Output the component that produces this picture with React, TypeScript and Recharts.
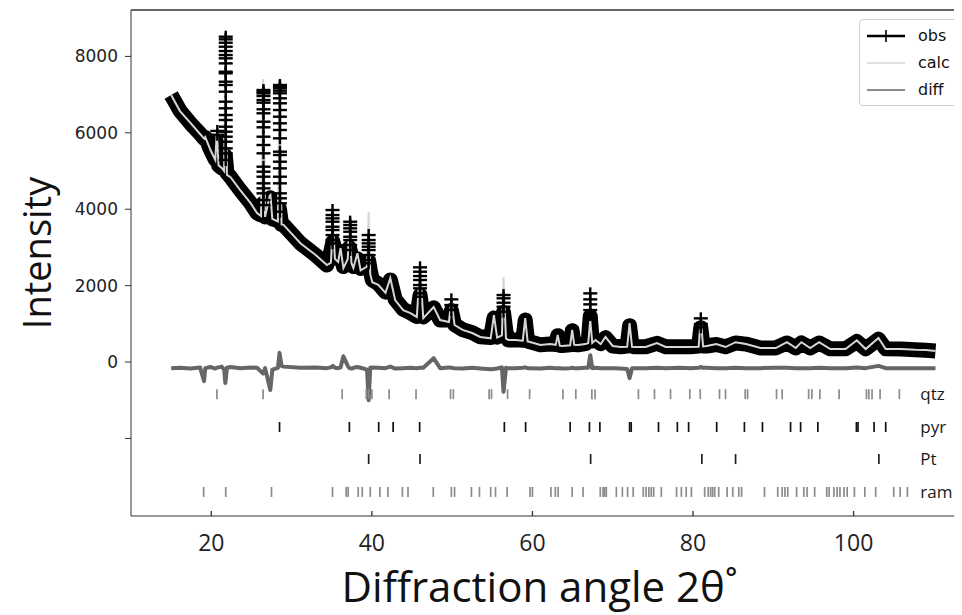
import React from "react";
import {
  ComposedChart,
  Line,
  Scatter,
  XAxis,
  YAxis,
  Legend,
  ReferenceLine,
  ReferenceDot,
} from "recharts";

// 2theta grid of the profile (deg)
const twoTheta = [
  15.0, 16.1, 17.4, 18.6, 19.1, 19.25, 19.9, 20.5, 20.7, 20.9, 21.3, 21.6, 21.75, 21.95, 22.4, 23.6,
  24.9, 25.7, 26.2, 26.45, 26.7, 27.35, 27.6, 28.3, 28.5, 28.75, 29.0, 31.1, 33.0, 34.4, 34.9, 35.15,
  35.4, 35.8, 36.1, 36.45, 37.0, 37.2, 37.45, 37.7, 38.2, 38.6, 39.4, 39.6, 39.8, 40.05, 40.8, 41.7,
  42.3, 42.9, 43.9, 44.8, 45.6, 46.0, 46.4, 47.7, 48.5, 49.6, 49.9, 50.3, 51.3, 52.5, 53.5, 54.8,
  55.2, 55.6, 56.2, 56.4, 56.7, 57.0, 57.9, 58.8, 59.1, 59.4, 59.7, 61.0, 62.2, 62.9, 63.15, 63.4,
  63.7, 64.7, 64.95, 65.2, 65.7, 66.6, 66.95, 67.2, 67.45, 67.85, 68.5, 69.1, 70.0, 71.0, 71.8, 72.1,
  72.4, 72.7, 74.1, 75.5, 76.6, 78.4, 79.7, 80.7, 80.97, 81.25, 81.7, 82.9, 84.05, 85.3, 86.6, 88.4,
  90.3, 91.7, 92.8, 93.5, 94.6, 95.7, 97.1, 99.0, 100.4, 101.5, 103.1, 104.0, 105.9, 107.7, 109.0, 110.2,
];

const calc = [
  6990, 6570, 6260, 5970, 5850, 5890, 5550, 5290, 6070, 5150, 5080, 5000, 8640, 4900, 4840, 4500,
  4160, 3900, 3820, 7410, 3800, 4420, 3750, 3680, 7380, 3600, 3590, 3110, 2800, 2540, 2600, 3660,
  2700, 2620, 2980, 2460, 2700, 3850, 2600, 2460, 2850, 2400, 2500, 3930, 2300, 2090, 2020, 1810,
  2200, 1620, 1360, 1280, 1180, 2490, 1150, 1440, 1100, 1050, 1620, 970, 840, 760, 655, 620,
  1230, 640, 700, 2225, 620, 575, 575, 560, 1150, 540, 525, 445, 470, 450, 710, 430,
  420, 440, 840, 450, 445, 470, 500, 1100, 500, 576, 470, 655, 420, 393, 400, 1020,
  400, 393, 393, 497, 393, 393, 393, 400, 1150, 410, 420, 470, 393, 520, 470, 367,
  367, 520, 367, 520, 367, 520, 340, 340, 570, 340, 628, 340, 340, 320, 314, 288,
];

const obs = [
  6990, 6580, 6250, 5980, 5850, 5880, 5560, 5300, 5750, 5150, 5080, 5050, 5400, 4950, 4840, 4500,
  4160, 3900, 3850, 4150, 3800, 4300, 3750, 3700, 4000, 3600, 3590, 3110, 2800, 2540, 2900, 3150,
  2950, 2700, 2900, 2500, 2900, 3000, 2800, 2500, 2700, 2450, 2600, 2650, 2400, 2150, 2050, 1830,
  2150, 1640, 1380, 1290, 1190, 1750, 1180, 1420, 1100, 1100, 1350, 980, 850, 770, 660, 640,
  1150, 650, 900, 1300, 800, 580, 580, 570, 1100, 550, 530, 450, 470, 460, 690, 440,
  430, 450, 820, 460, 450, 480, 550, 1200, 550, 580, 480, 640, 420, 400, 420, 950,
  420, 400, 400, 490, 400, 400, 400, 420, 900, 420, 420, 460, 400, 500, 470, 370,
  370, 500, 370, 500, 370, 500, 345, 345, 540, 345, 600, 345, 340, 320, 310, 290,
];

const diff = [
  -160, -150, -170, -140, -500, -160, -130, -170, -150, -140, -120, -200, -550, -150, -130, -160,
  -140, -150, -250, -300, -160, -730, -200, -150, 240, -100, -120, -150, -140, -160, -140, -100,
  -150, -160, -140, 150, -100, -160, -170, -150, -130, -150, -200, -1000, -150, -140, -150, -160,
  -120, -170, -160, -150, -160, -150, -150, 100, -160, -140, -150, -160, -170, -150, -170, -190,
  -180, -170, -140, -780, -150, -160, -160, -150, -140, -160, -160, -170, -150, -160, -160, -160,
  -170, -160, -150, -160, -160, -150, -150, 180, -160, -150, -160, -160, -160, -170, -180, -420,
  -160, -160, -160, -150, -160, -150, -160, -150, -130, -150, -150, -160, -160, -150, -160, -160,
  -150, -150, -160, -160, -160, -150, -160, -160, -140, -160, -100, -160, -160, -160, -160, -160,
];

// observed points stacked on the strong peaks
const peakCentres = [20.75, 21.8, 26.5, 28.55, 35.1, 37.3, 39.6, 46.0, 49.9, 56.4, 67.2, 80.97];
const peakPoints = [
  [5950, 6050],
  [8516, 8447, 8358, 8254, 8141, 8036, 7950, 7818, 7600, 7558, 7338, 7252, 7077, 6815, 6642, 6466, 6335, 6160, 6029, 5898, 5767, 5593, 5462, 5288],
  [7121, 7077, 7034, 6964, 6859, 6789, 6616, 6511, 6291, 6144, 5898, 5681, 5463, 5113, 4982, 4851, 4678, 4547, 4416, 4241, 4110],
  [7252, 7208, 7165, 7103, 7034, 6904, 6773, 6597, 6422, 6249, 6074, 5856, 5506, 5419, 5244, 5070, 4851, 4678, 4416, 4286, 4155, 3935],
  [3979, 3848, 3761, 3673, 3542, 3456, 3325, 3194, 3107],
  [3673, 3587, 3500, 3411, 3280, 3194, 3063, 2932],
  [3325, 3194, 3107, 3019, 2932, 2801, 2670, 2584],
  [2479, 2364, 2251, 2147, 2016, 1929, 1798, 1710],
  [1641, 1492, 1361],
  [1754, 1668, 1553, 1448, 1317],
  [1798, 1641, 1510, 1361, 1230],
  [1144, 995, 908],
];

// reflection positions
const qtz = [
  20.7, 26.45, 36.3, 39.3, 39.6, 40.0, 42.15, 45.5, 49.8, 50.15, 54.6, 54.9, 56.9, 59.65, 63.8, 65.4,
  67.4, 67.8, 73.2, 75.2, 77.2, 79.6, 80.9, 83.3, 84.05, 86.5, 86.8, 90.4, 91.1, 94.4, 94.8, 95.8,
  98.2, 101.6, 101.9, 102.3, 103.3, 105.7,
];
const pyr = [
  28.5, 37.2, 40.85, 42.65, 45.95, 56.5, 59.15, 64.7, 67.1, 68.4, 72.1, 72.3, 75.7, 78.05, 79.45,
  82.95, 86.4, 88.65, 92.15, 93.4, 95.55, 100.35, 100.55, 102.55, 104.0,
];
const pt = [39.6, 46.0, 67.25, 81.1, 85.3, 103.15];
const ram = [
  19.05, 21.8, 27.5, 35.1, 36.8, 37.05, 38.3, 38.8, 39.8, 41.0, 42.0, 43.8, 44.5, 47.65, 49.9, 50.3,
  52.4, 53.4, 54.8, 55.4, 56.85, 59.7, 60.0, 62.3, 62.85, 63.2, 64.95, 66.3, 68.45, 68.8, 69.0, 69.2,
  70.45, 71.2, 71.85, 72.55, 73.8, 74.15, 74.5, 74.8, 75.1, 76.05, 77.95, 78.55, 79.15, 79.8, 81.45,
  81.9, 82.2, 82.45, 82.7, 83.2, 84.25, 84.95, 85.7, 86.05, 88.9, 90.55, 91.1, 91.45, 91.8, 92.9,
  93.8, 94.2, 95.15, 96.65, 96.95, 97.55, 97.95, 98.3, 98.8, 99.2, 100.1, 101.4, 102.75, 105.0,
  105.8, 106.7,
];
const phaseNames = ["qtz", "pyr", "Pt", "ram"];
const phaseLevels = [-840, -1700, -2540, -3400];
const phaseColors = ["#8c8c8c", "#111111", "#1e1e1e", "#8c8c8c"];

const xTicks = [20, 40, 60, 80, 100];
const yTicks = [-2000, 0, 2000, 4000, 6000, 8000];
const legendNames = ["obs", "calc", "diff"];

const profile = twoTheta.map((x, i) => ({ x, obs: obs[i], calc: calc[i], diff: diff[i] }));
const peakData = peakCentres.flatMap((x, i) => peakPoints[i].map((y) => ({ x, y })));
const phaseData = [qtz, pyr, pt, ram].map((list, i) => list.map((x) => ({ x, y: phaseLevels[i] })));

const PlusMark = (props: any) => {
  const { cx, cy } = props;
  return (
    <g stroke="#000" strokeWidth={2.4}>
      <line x1={cx - 7} x2={cx + 7} y1={cy} y2={cy} />
      <line x1={cx} x2={cx} y1={cy - 6} y2={cy + 6} />
    </g>
  );
};

const tickMark = (color: string) => (props: any) => (
  <line x1={props.cx} x2={props.cx} y1={props.cy - 5} y2={props.cy + 5} stroke={color} strokeWidth={1.7} />
);

const XTick = (props: any) => {
  const { x, y, payload } = props;
  return (
    <g>
      <line x1={x} x2={x} y1={y} y2={y - 5} stroke="#333" strokeWidth={1.3} />
      <text x={x} y={y + 35} textAnchor="middle" fontFamily="Open Sans" fontSize={23} fill="#222">
        {payload.value}
      </text>
    </g>
  );
};

const LegendBox = () => (
  <div
    style={{
      width: 120,
      height: 87,
      boxSizing: "border-box",
      border: "1px solid #cfcfcf",
      borderRadius: 4,
      background: "rgba(255,255,255,0.85)",
      fontFamily: "DejaVu Sans",
      fontSize: 16,
      color: "#111",
      paddingTop: 2,
    }}
  >
    {legendNames.map((name) => (
      <div key={name} style={{ display: "flex", alignItems: "center", height: 27 }}>
        <svg width={52} height={20} style={{ marginRight: 6 }}>
          {name === "obs" && (
            <g stroke="#000">
              <line x1={7} x2={45} y1={10} y2={10} strokeWidth={2.5} />
              <line x1={26} x2={26} y1={4} y2={16} strokeWidth={1.6} />
            </g>
          )}
          {name === "calc" && <line x1={7} x2={45} y1={10} y2={10} stroke="#d6d6d6" strokeWidth={1.6} />}
          {name === "diff" && <line x1={7} x2={45} y1={10} y2={10} stroke="#666" strokeWidth={1.6} />}
        </svg>
        <span>{name}</span>
      </div>
    ))}
  </div>
);

export default function App() {
  return (
    <div style={{ width: 954, height: 607, overflow: "hidden", position: "relative", background: "#fff" }}>
      <ComposedChart width={958} height={607} margin={{ top: 2, right: 0, bottom: 0, left: 0 }}>
        <XAxis
          dataKey="x"
          type="number"
          domain={[10, 114]}
          ticks={xTicks}
          allowDataOverflow
          height={99}
          stroke="#333"
          tickLine={false}
          tickSize={0}
          tickMargin={0}
          tick={<XTick />}
          label={{
            value: "Diffraction angle 2θ˚",
            content: (p: any) => (
              <text
                x={p.viewBox.x + p.viewBox.width / 2 - 9}
                y={p.viewBox.y + 86}
                textAnchor="middle"
                fontFamily="Open Sans"
                fontSize={42}
                fill="#111"
              >
                Diffraction angle 2θ˚
              </text>
            ),
          }}
        />
        <YAxis
          type="number"
          domain={[-4030, 9215]}
          ticks={yTicks}
          allowDataOverflow
          width={123}
          stroke="#333"
          tickSize={6}
          tickMargin={7}
          tick={{ fill: "#222", fontSize: 17, fontFamily: "DejaVu Sans" }}
          tickFormatter={(v: number) => (v < 0 ? "" : String(v))}
          label={{
            value: "Intensity",
            content: () => (
              <text transform="translate(43, 245) rotate(-90)" textAnchor="middle" fontFamily="Open Sans" fontSize={38} fill="#111">
                Intensity
              </text>
            ),
          }}
        />
        <ReferenceLine y={9215} stroke="#333" strokeWidth={1.3} ifOverflow="visible" />

        <Line
          data={profile}
          dataKey="obs"
          name="obs"
          stroke="#000"
          strokeWidth={15}
          strokeLinejoin="round"
          dot={false}
          isAnimationActive={false}
        />
        <Scatter data={peakData} dataKey="y" name="obs peaks" shape={PlusMark} legendType="none" isAnimationActive={false} />
        <Line
          data={profile}
          dataKey="calc"
          name="calc"
          stroke="#d6d6d6"
          strokeWidth={2}
          dot={false}
          isAnimationActive={false}
        />
        <Line
          data={profile}
          dataKey="diff"
          name="diff"
          stroke="#666"
          strokeWidth={4}
          strokeLinejoin="round"
          dot={false}
          isAnimationActive={false}
        />

        {phaseData.map((d, i) => (
          <Scatter
            key={phaseNames[i]}
            data={d}
            dataKey="y"
            name={phaseNames[i]}
            shape={tickMark(phaseColors[i])}
            legendType="none"
            isAnimationActive={false}
          />
        ))}
        {phaseNames.map((n, i) => (
          <ReferenceDot
            key={n}
            x={108.3}
            y={phaseLevels[i]}
            r={0}
            stroke="none"
            label={{ value: n, position: "right", offset: 0, fill: "#1a1a1a", fontSize: 17, fontFamily: "Open Sans" }}
          />
        ))}

        <Legend
          layout="vertical"
          align="center"
          verticalAlign="middle"
          wrapperStyle={{ top: 11, left: 851 }}
          content={() => <LegendBox />}
        />
      </ComposedChart>
    </div>
  );
}
